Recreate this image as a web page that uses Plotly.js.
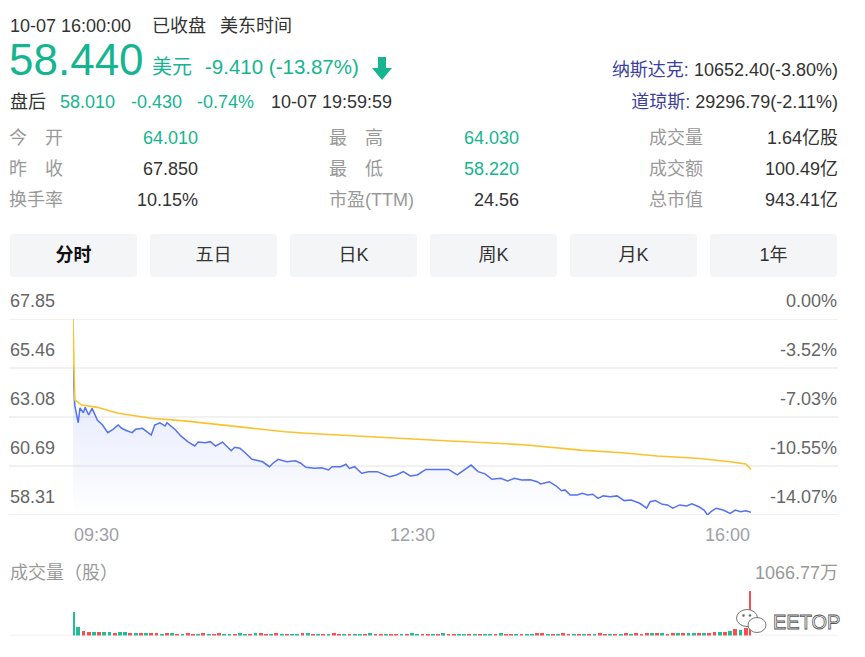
<!DOCTYPE html>
<html>
<head>
<meta charset="utf-8">
<script src="https://cdn.plot.ly/plotly-3.0.1.min.js"></script>
<style>
  html, body { margin:0; padding:0; background:#fff; }
  body { width:865px; height:657px; position:relative; overflow:hidden;
         font-family:"Liberation Sans", Arial, "Noto Sans CJK SC", sans-serif; color:#333; }
  .t { position:absolute; white-space:nowrap; font-size:18px; line-height:22px; }
  .g { color:#17b58f; }
  .lbl { color:#999; }
  .r { text-align:right; }
  .tab { position:absolute; top:234px; width:127px; height:43px; background:#f4f5f7; border-radius:4px;
         text-align:center; line-height:43px; font-size:18px; color:#333; }
  #chart { position:absolute; left:0; top:285px; width:865px; height:372px; }
</style>
</head>
<body>
<!-- header -->
<div class="t" style="left:10px; top:15px;">10-07 16:00:00</div>
<div class="t" style="left:152px; top:15px;">已收盘</div>
<div class="t" style="left:220px; top:15px;">美东时间</div>

<div class="t g" style="left:9px; top:38px; font-size:44px; line-height:44px;">58.440</div>
<div class="t g" style="left:152px; top:57px; font-size:20px; line-height:20px;">美元</div>
<div class="t g" style="left:205px; top:57px; font-size:20.5px; line-height:20px;">-9.410 (-13.87%)</div>
<svg style="position:absolute; left:371px; top:57px;" width="22" height="24" viewBox="0 0 22 24">
  <polygon points="7,0 15,0 15,11 21,11 11,23 1,11 7,11" fill="#17b58f"/>
</svg>

<div class="t" style="left:10px; top:91px;">盘后</div>
<div class="t g" style="left:60px; top:91px;">58.010</div>
<div class="t g" style="left:131px; top:91px;">-0.430</div>
<div class="t g" style="left:197px; top:91px;">-0.74%</div>
<div class="t" style="left:271px; top:91px;">10-07 19:59:59</div>

<div class="t r" style="right:27px; top:59px;"><span style="color:#3d3f9e;">纳斯达克:</span> 10652.40(-3.80%)</div>
<div class="t r" style="right:27px; top:91px;"><span style="color:#3d3f9e;">道琼斯:</span> 29296.79(-2.11%)</div>

<!-- stats -->
<div class="t lbl" style="left:9px; top:127px;">今　开</div>
<div class="t g r" style="right:667px; top:127px;">64.010</div>
<div class="t lbl" style="left:9px; top:158px;">昨　收</div>
<div class="t r" style="right:667px; top:158px;">67.850</div>
<div class="t lbl" style="left:9px; top:189px;">换手率</div>
<div class="t r" style="right:667px; top:189px;">10.15%</div>

<div class="t lbl" style="left:329px; top:127px;">最　高</div>
<div class="t g r" style="right:346px; top:127px;">64.030</div>
<div class="t lbl" style="left:329px; top:158px;">最　低</div>
<div class="t g r" style="right:346px; top:158px;">58.220</div>
<div class="t lbl" style="left:329px; top:189px;">市盈(TTM)</div>
<div class="t r" style="right:346px; top:189px;">24.56</div>

<div class="t lbl" style="left:649px; top:127px;">成交量</div>
<div class="t r" style="right:27px; top:127px;">1.64亿股</div>
<div class="t lbl" style="left:649px; top:158px;">成交额</div>
<div class="t r" style="right:27px; top:158px;">100.49亿</div>
<div class="t lbl" style="left:649px; top:189px;">总市值</div>
<div class="t r" style="right:27px; top:189px;">943.41亿</div>

<!-- tabs -->
<div class="tab" style="left:10px; font-weight:bold; color:#111;">分时</div>
<div class="tab" style="left:150px;">五日</div>
<div class="tab" style="left:290px;">日K</div>
<div class="tab" style="left:430px;">周K</div>
<div class="tab" style="left:570px;">月K</div>
<div class="tab" style="left:710px;">1年</div>

<div id="chart"></div>

<div class="t lbl" style="left:10px; top:562px;">成交量（股）</div>
<div class="t lbl r" style="right:27px; top:562px;">1066.77万</div>
<svg style="position:absolute; left:735px; top:607px;" width="34" height="30" viewBox="0 0 34 30">
  <ellipse cx="12" cy="11" rx="10.5" ry="8.5" fill="#fff" stroke="#666" stroke-width="0.9"/>
  <ellipse cx="22" cy="18" rx="9" ry="7.5" fill="#fff" stroke="#666" stroke-width="0.9"/>
  <circle cx="8.5" cy="8.5" r="1.2" fill="#666"/><circle cx="15" cy="8.5" r="1.2" fill="#666"/>
</svg>
<div class="t" style="left:773px; top:611px; font-size:20px; color:#fff; -webkit-text-stroke:0.8px #555;">EETOP</div>

<script>
// ---- data ----
const priceMinutes = [0,1,3,4,6,7,9,11,14,17,20,23,26,28,31,34,36,40,45,47,50,53,54,57,59,62,66,70,72,76,79,82,86,89,91,93,96,99,103,105,109,113,115,118,123,128,131,134,139,143,147,149,154,157,159,162,166,170,175,178,182,186,190,194,198,203,207,212,216,221,225,227,229,233,237,241,246,250,254,258,263,267,269,274,278,281,283,286,290,293,296,299,302,305,309,313,317,321,326,330,332,335,339,342,345,349,353,356,360,363,365,367,370,374,378,381,384,387,390];
const prices = [65.60,63.66,62.80,63.52,63.29,63.55,63.18,63.50,62.93,62.69,62.32,62.48,62.69,62.53,62.41,62.32,62.48,62.53,62.20,62.69,62.80,62.64,62.80,62.61,62.45,62.16,61.88,61.67,61.86,61.83,61.88,61.67,61.86,61.61,61.44,61.61,61.56,61.34,61.02,60.99,60.90,60.66,60.83,61.02,60.90,60.95,60.83,60.63,60.58,60.61,60.50,60.66,60.66,60.78,60.58,60.66,60.34,60.42,60.42,60.31,60.17,60.26,60.42,60.21,60.26,60.53,60.53,60.50,60.53,60.26,60.50,60.58,60.74,60.42,60.31,60.05,60.10,59.97,60.10,60.01,60.02,59.93,59.82,59.93,59.72,59.49,59.53,59.28,59.28,59.37,59.28,59.32,59.12,59.24,59.20,59.24,59.01,59.04,58.88,58.64,58.96,59.01,58.83,58.80,58.64,58.80,58.75,58.85,58.71,58.55,58.31,58.47,58.64,58.55,58.39,58.55,58.47,58.52,58.44];

const avgMinutes = [0,1,5,14,26,45,64,83,103,122,134,161,194,217,238,261,292,316,336,359,378,387,390];
const avgPrices = [67.85,63.91,63.66,63.55,63.26,63.02,62.89,62.72,62.53,62.36,62.29,62.16,61.99,61.91,61.83,61.72,61.47,61.34,61.18,61.07,60.90,60.79,60.53];

const volMinutes = [];
for (let m = 0; m <= 390; m += 3) volMinutes.push(m);
const volumes = [
570,200,110,95,80,90,75,85,70,90,
80,60,55,65,50,55,60,45,50,55,
40,45,50,38,42,48,40,45,52,40,
38,44,50,42,46,55,48,40,44,50,
42,38,45,40,48,52,44,40,46,42,
48,40,44,38,42,46,40,52,44,40,
38,42,46,40,44,48,42,38,45,40,
44,50,42,46,40,44,38,42,46,40,
44,40,48,42,46,40,44,38,42,50,
58,46,40,44,48,42,40,46,44,40,
42,48,44,40,46,42,48,44,50,46,
55,70,48,52,46,50,56,60,52,58,
64,70,62,80,75,95,110,150,120,180,
1066.77];
const volUp = [
0,0,1,1,0,1,0,0,1,0,
0,1,0,1,0,1,1,0,1,0,
1,0,1,1,0,1,0,1,1,0,
0,1,0,0,1,0,1,1,0,1,
0,1,0,0,1,0,1,0,1,0,
1,1,0,1,0,0,1,0,1,1,
0,1,1,0,1,0,0,1,1,0,
1,0,1,1,0,0,1,0,1,0,
0,1,0,1,1,0,1,0,0,1,
1,0,1,0,1,1,0,1,0,1,
0,1,1,0,1,0,1,0,1,1,
1,0,1,0,1,1,0,1,0,0,
1,0,1,1,0,1,0,1,0,1,
1];

const priceTicks = [67.85, 65.46, 63.08, 60.69, 58.31];
const pctTicks = ['0.00%', '-3.52%', '-7.03%', '-10.55%', '-14.07%'];
const timeLabels = ['09:30', '12:30', '16:00'];
const timeLabelPos = [0, 195, 390];
const volMax = 1066.77;

// ---- layout ----
const H = 372, W = 865;
const xL = 73 / W, xR = 751 / W;
const gL = 9 / W, gR = 838 / W;
const priceDom = [(H - 230) / H, (H - 34) / H];
const volDom = [(H - 350.5) / H, (H - 305.7) / H];

const RED = '#f5504f', GREEN = '#1fbf93';

const traces = [
  {
    x: priceMinutes, y: prices, type: 'scatter', mode: 'lines',
    line: { color: '#5572ef', width: 1.5 },
    fill: 'tozeroy',
    fillgradient: { type: 'vertical', start: 58.31, stop: 63.5,
      colorscale: [[0, 'rgba(85,114,239,0.0)'], [1, 'rgba(85,114,239,0.13)']] },
    xaxis: 'x', yaxis: 'y', hoverinfo: 'skip'
  },
  {
    x: avgMinutes, y: avgPrices, type: 'scatter', mode: 'lines',
    line: { color: '#fbc22c', width: 1.6 },
    xaxis: 'x', yaxis: 'y', hoverinfo: 'skip'
  },
  {
    x: volMinutes, y: volumes, type: 'bar', width: 2.2,
    marker: { color: volUp.map(u => u ? RED : GREEN), line: { width: 0 } },
    xaxis: 'x2', yaxis: 'y2', hoverinfo: 'skip'
  }
];

const shapes = [];
priceTicks.forEach(v => shapes.push({
  type: 'line', xref: 'paper', yref: 'y', x0: gL, x1: gR, y0: v, y1: v,
  line: { color: '#ececec', width: 1.5 }, layer: 'below'
}));
shapes.push({ type: 'line', xref: 'paper', yref: 'y2', x0: gL, x1: gR, y0: 0, y1: 0,
  line: { color: '#ececec', width: 1.5 }, layer: 'below' });

const annotations = [];
const tickFont = { family: 'Liberation Sans, Arial, sans-serif', size: 18, color: '#666' };
priceTicks.forEach((v, i) => {
  annotations.push({ xref: 'paper', yref: 'y', x: gL, y: v, xanchor: 'left', yanchor: 'middle',
    yshift: 18, text: v.toFixed(2), showarrow: false, font: tickFont, borderpad: 0 });
  annotations.push({ xref: 'paper', yref: 'y', x: gR, y: v, xanchor: 'right', yanchor: 'middle',
    yshift: 18, text: pctTicks[i], showarrow: false, font: tickFont, borderpad: 0 });
});
const anchors = ['left', 'center', 'right'];
timeLabels.forEach((t, i) => {
  annotations.push({ xref: 'x', yref: 'paper', x: timeLabelPos[i], y: (H - 250) / H,
    xanchor: anchors[i], yanchor: 'middle', text: t, showarrow: false, borderpad: 0,
    font: { family: 'Liberation Sans, Arial, sans-serif', size: 18, color: '#a0a0a8' } });
});

const layout = {
  width: W, height: H,
  margin: { l: 0, r: 0, t: 0, b: 0 },
  paper_bgcolor: 'rgba(0,0,0,0)', plot_bgcolor: 'rgba(0,0,0,0)',
  showlegend: false,
  xaxis: { domain: [xL, xR], range: [0, 390], showgrid: false, zeroline: false,
           showticklabels: false, showline: false, ticks: '', fixedrange: true },
  yaxis: { domain: priceDom, range: [58.31, 67.85], showgrid: false, zeroline: false,
           showticklabels: false, showline: false, ticks: '', fixedrange: true },
  xaxis2: { domain: [xL, xR], range: [0, 390], anchor: 'y2', showgrid: false, zeroline: false,
            showticklabels: false, showline: false, ticks: '', fixedrange: true },
  yaxis2: { domain: volDom, range: [0, volMax], anchor: 'x2', showgrid: false, zeroline: false,
            showticklabels: false, showline: false, ticks: '', fixedrange: true },
  bargap: 0,
  shapes: shapes,
  annotations: annotations
};

Plotly.newPlot('chart', traces, layout, { staticPlot: true, displayModeBar: false });
</script>
</body>
</html>
